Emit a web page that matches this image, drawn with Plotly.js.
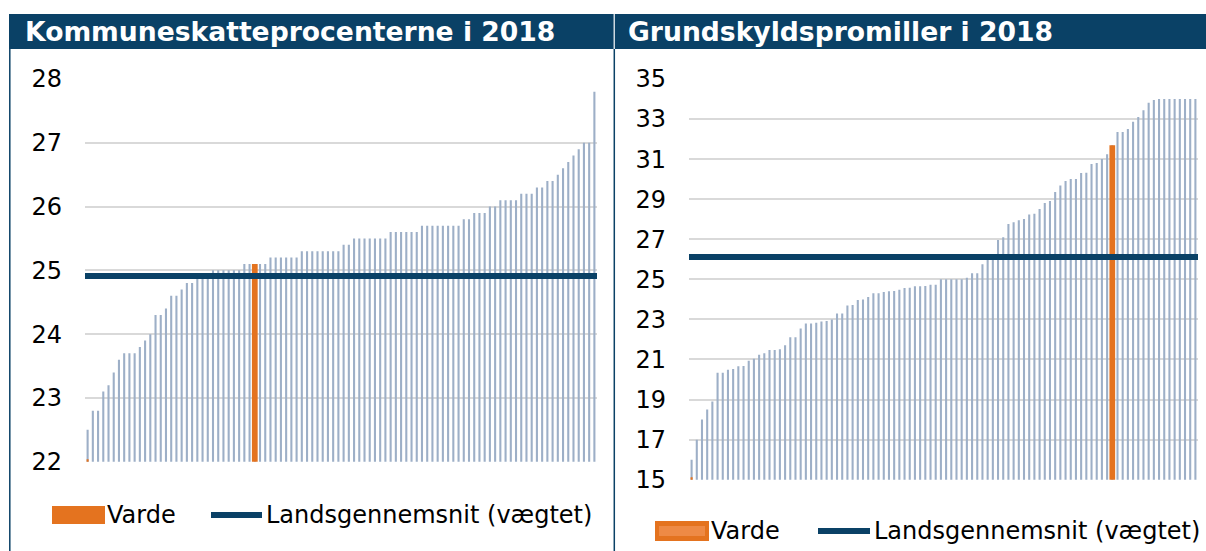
<!DOCTYPE html>
<html>
<head>
<meta charset="utf-8">
<script src="https://cdn.plot.ly/plotly-3.0.1.min.js"></script>
<style>
html,body{margin:0;padding:0;background:#fff;}
#chart{width:1206px;height:551px;}
</style>
</head>
<body>
<div id="chart"></div>
<script>
// ---- DATA ----
const titleLeft = "Kommuneskatteprocenterne i 2018";
const titleRight = "Grundskyldspromiller i 2018";
const seriesVarde = "Varde";
const seriesAvg = "Landsgennemsnit (vægtet)";

// Kommuneskatteprocenter 2018, sorted (98 kommuner)
const kommuneskat = [
  22.5, 22.8, 22.8, 23.1, 23.2, 23.4, 23.6, 23.7, 23.7, 23.7,
  23.8, 23.9, 24.0, 24.3, 24.3, 24.4, 24.6, 24.6, 24.7, 24.8,
  24.8, 24.9, 24.9, 24.9, 25.0, 25.0, 25.0, 25.0, 25.0, 25.0,
  25.1, 25.1, 25.1, 25.1, 25.1, 25.2, 25.2, 25.2, 25.2, 25.2,
  25.2, 25.3, 25.3, 25.3, 25.3, 25.3, 25.3, 25.3, 25.3, 25.4,
  25.4, 25.5, 25.5, 25.5, 25.5, 25.5, 25.5, 25.5, 25.6, 25.6,
  25.6, 25.6, 25.6, 25.6, 25.7, 25.7, 25.7, 25.7, 25.7, 25.7,
  25.7, 25.7, 25.8, 25.8, 25.9, 25.9, 25.9, 26.0, 26.0, 26.1,
  26.1, 26.1, 26.1, 26.2, 26.2, 26.2, 26.3, 26.3, 26.4, 26.4,
  26.5, 26.6, 26.7, 26.8, 26.9, 27.0, 27.0, 27.8
];
const kommuneskatVardeIndex = 32;
const kommuneskatVarde = 25.1;
const kommuneskatFirstStub = 22.04;
const kommuneskatAvg = 24.91;

// Grundskyldspromiller 2018, sorted (98 kommuner)
const grundskyld = [
  16.0, 17.0, 18.0, 18.5, 18.9, 20.34, 20.34, 20.49, 20.52, 20.66,
  20.67, 20.94, 21.04, 21.24, 21.31, 21.47, 21.47, 21.51, 21.71, 22.11,
  22.11, 22.55, 22.80, 22.80, 22.84, 22.89, 22.92, 22.99, 23.30, 23.30,
  23.69, 23.72, 23.97, 24.00, 24.12, 24.30, 24.30, 24.37, 24.40, 24.42,
  24.48, 24.57, 24.58, 24.65, 24.65, 24.67, 24.73, 24.73, 25.00, 25.00,
  25.00, 25.00, 25.00, 25.08, 25.30, 25.30, 25.75, 25.98, 25.98, 26.96,
  27.10, 27.76, 27.85, 27.95, 28.01, 28.24, 28.28, 28.51, 28.81, 28.91,
  29.36, 29.69, 29.91, 30.01, 30.01, 30.31, 30.32, 30.76, 30.81, 31.01,
  31.24, 31.69, 32.35, 32.35, 32.50, 32.87, 33.10, 33.44, 33.82, 33.95,
  34.00, 34.00, 34.00, 34.00, 34.00, 34.00, 34.00, 34.00
];
const grundskyldVardeIndex = 81;
const grundskyldVarde = 31.69;
const grundskyldFirstStub = 15.12;
const grundskyldAvg = 26.11;

// ---- STYLE ----
const W = 1206, H = 551;
const FONT = "DejaVu Sans, Verdana, sans-serif";
const NAVY = "#0A4166";
const BLUEBAR = "#9DAFC7";
const ORANGE = "#E4731F";
const GRID = "#D9D9D9";
const fx = p => p / W;
const fy = p => 1 - p / H;

function idx(arr){ return arr.map((_, i) => i); }
function vardeSeries(n, vi, vv, stub){
  const y = new Array(n).fill(null);
  const w = new Array(n).fill(0.4);
  y[0] = stub; y[vi] = vv; w[vi] = 1.1;
  return {y, w};
}

const vL = vardeSeries(kommuneskat.length, kommuneskatVardeIndex, kommuneskatVarde, kommuneskatFirstStub);
const vR = vardeSeries(grundskyld.length, grundskyldVardeIndex, grundskyldVarde, grundskyldFirstStub);

const traces = [
  {type:'bar', x: idx(kommuneskat), y: kommuneskat, width: 0.4, marker:{color: BLUEBAR}, xaxis:'x', yaxis:'y', hoverinfo:'y', showlegend:false},
  {type:'bar', x: idx(kommuneskat), y: vL.y, width: vL.w, marker:{color: ORANGE}, name: seriesVarde, xaxis:'x', yaxis:'y', showlegend:false},
  {type:'bar', x: idx(grundskyld), y: grundskyld, width: 0.4, marker:{color: BLUEBAR}, xaxis:'x2', yaxis:'y2', hoverinfo:'y', showlegend:false},
  {type:'bar', x: idx(grundskyld), y: vR.y, width: vR.w, marker:{color: ORANGE}, name: seriesVarde, xaxis:'x2', yaxis:'y2', showlegend:false}
];

const yCommon = {
  showgrid: true, gridcolor: GRID, gridwidth: 2, zeroline: false, showline: false,
  ticks: '', ticklabelstandoff: 22,
  tickfont: {family: FONT, size: 24, color: '#000'}, fixedrange: true
};
const xCommon = {showgrid:false, zeroline:false, showline:false, showticklabels:false, ticks:'', fixedrange:true};

const shapes = [
  // title bars
  {type:'rect', xref:'paper', yref:'paper', x0:fx(9), x1:fx(613.6), y0:fy(49), y1:fy(14), fillcolor:NAVY, line:{width:0}, layer:'below'},
  {type:'rect', xref:'paper', yref:'paper', x0:fx(614.8), x1:fx(1206), y0:fy(49), y1:fy(14), fillcolor:NAVY, line:{width:0}, layer:'below'},
  // panel borders
  {type:'line', xref:'paper', yref:'paper', x0:fx(9.8), x1:fx(9.8), y0:fy(49), y1:fy(551), line:{color:NAVY, width:1.5}},
  {type:'line', xref:'paper', yref:'paper', x0:fx(614.3), x1:fx(614.3), y0:fy(49), y1:fy(551), line:{color:NAVY, width:1.5}},
  // averages
  {type:'line', xref:'x domain', yref:'y', x0:0, x1:1, y0:kommuneskatAvg, y1:kommuneskatAvg, line:{color:NAVY, width:6}},
  {type:'line', xref:'x2 domain', yref:'y2', x0:0, x1:1, y0:grundskyldAvg, y1:grundskyldAvg, line:{color:NAVY, width:6}},
  // legend left
  {type:'rect', xref:'paper', yref:'paper', x0:fx(52), x1:fx(105), y0:fy(524), y1:fy(506), fillcolor:ORANGE, line:{width:0}},
  {type:'line', xref:'paper', yref:'paper', x0:fx(211), x1:fx(262), y0:fy(515), y1:fy(515), line:{color:NAVY, width:6}},
  // legend right
  {type:'rect', xref:'paper', yref:'paper', x0:fx(655), x1:fx(709), y0:fy(541), y1:fy(521), fillcolor:ORANGE, line:{width:0}},
  {type:'rect', xref:'paper', yref:'paper', x0:fx(659), x1:fx(705), y0:fy(536), y1:fy(526), fillcolor:'#EE8A45', line:{width:0}},
  {type:'line', xref:'paper', yref:'paper', x0:fx(818), x1:fx(870), y0:fy(531), y1:fy(531), line:{color:NAVY, width:6}}
];

function ann(text, x, y, size, bold, color){
  return {text: bold ? '<b>'+text+'</b>' : text, xref:'paper', yref:'paper', x:fx(x), y:fy(y),
          xanchor:'left', yanchor:'middle', showarrow:false,
          font:{family:FONT, size:size, color:color}};
}
const annotations = [
  ann(titleLeft, 23, 31.5, 26.6, true, '#fff'),
  ann(titleRight, 626, 31.5, 26.6, true, '#fff'),
  ann(seriesVarde, 105, 515, 24, false, '#000'),
  ann(seriesAvg, 264, 515, 24, false, '#000'),
  ann(seriesVarde, 709, 531, 24, false, '#000'),
  ann(seriesAvg, 872, 531, 24, false, '#000')
];

const layout = {
  width: W, height: H,
  margin: {l:0, r:0, t:0, b:0, pad:0},
  paper_bgcolor: '#fff', plot_bgcolor: 'rgba(0,0,0,0)',
  barmode: 'overlay', showlegend: false,
  font: {family: FONT},
  xaxis: Object.assign({}, xCommon, {domain:[fx(85), fx(597)], range:[-0.5, kommuneskat.length - 0.5], anchor:'y'}),
  yaxis: Object.assign({}, yCommon, {domain:[fy(461.7), fy(79)], range:[22, 28], dtick:1, tick0:22, anchor:'x'}),
  xaxis2: Object.assign({}, xCommon, {domain:[fx(689), fx(1198)], range:[-0.5, grundskyld.length - 0.5], anchor:'y2'}),
  yaxis2: Object.assign({}, yCommon, {domain:[fy(479.7), fy(79)], range:[15, 35], dtick:2, tick0:15, anchor:'x2'}),
  shapes: shapes,
  annotations: annotations
};

Plotly.newPlot('chart', traces, layout, {staticPlot:true, displayModeBar:false});
</script>
</body>
</html>
